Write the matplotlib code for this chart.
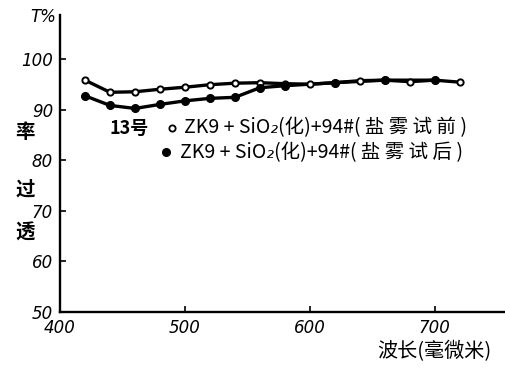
import numpy as np
import matplotlib
matplotlib.use("Agg")
import matplotlib.pyplot as plt

plt.rcParams['font.family'] = ['Noto Sans CJK SC', 'DejaVu Sans']

# wavelength (nm) and transmittance T%
wl_before = [420, 440, 460, 480, 500, 520, 540, 560, 580, 600, 620, 640, 660, 680, 700, 720]
t_before = [95.9, 93.5, 93.6, 94.1, 94.5, 95.0, 95.3, 95.4, 95.2, 95.1, 95.4, 95.8, 95.9, 95.6, 95.9, 95.5]

wl_after = [420, 440, 460, 480, 500, 520, 540, 560, 580, 620, 660, 700]
t_after = [92.8, 90.9, 90.3, 91.1, 91.8, 92.3, 92.5, 94.4, 94.8, 95.4, 95.9, 95.9]

x_ticks = [400, 500, 600, 700]
y_ticks = [50, 60, 70, 80, 90, 100]

label_before = "ZK9 + SiO₂(化)+94#( 盐 雾 试 前 )"
label_after = "ZK9 + SiO₂(化)+94#( 盐 雾 试 后 )"

fig = plt.figure(figsize=(5.06, 3.68), dpi=100)
ax = fig.add_axes([60/506, 56/368, 446/506, 297/368])

# filled series line underneath, open series on top, filled markers last
ax.plot(wl_after, t_after, color='black', lw=2.4, zorder=2, solid_capstyle='round')
ax.plot(wl_before, t_before, color='black', lw=2.4, marker='o', ms=4.5,
        mfc='white', mec='black', mew=1.4, zorder=3, solid_capstyle='round')
ax.plot(wl_after, t_after, ls='none', marker='o', ms=5.5, mfc='black',
        mec='black', zorder=4)

ax.set_xlim(400, 757)
ax.set_ylim(50, 108.8)
for s in ['top', 'right']:
    ax.spines[s].set_visible(False)
for s in ['left', 'bottom']:
    ax.spines[s].set_linewidth(1.7)

ax.set_xticks(x_ticks)
ax.set_yticks(y_ticks)
ax.set_xticklabels([str(v) for v in x_ticks], fontstyle='italic', fontsize=12,
                   family='DejaVu Sans')
ax.set_yticklabels([str(v) for v in y_ticks], fontstyle='italic', fontsize=12,
                   family='DejaVu Sans')
ax.tick_params(direction='in', length=4, width=1.2, pad=5)

fig.text(30/506, 1 - 17/368, "T%", fontsize=12, fontstyle='italic',
         family='DejaVu Sans', ha='left', va='center')

# vertical axis title, characters stacked
for ch, yp in zip(["率", "过", "透"], [133, 190, 233]):
    fig.text(25/506, 1 - yp/368, ch, fontsize=14, fontweight='bold',
             ha='center', va='center')

fig.text(434/506, 1 - 352/368, "波长(毫微米)", fontsize=14.5, ha='center', va='center')

# hand-written legend
fig.text(110/506, 1 - 128/368, "13号", fontsize=13, fontweight='bold',
         ha='left', va='center')
fig.add_artist(plt.Line2D([172/506], [1 - 128/368], marker='o', ms=4.5,
                          mfc='white', mec='black', mew=1.3))
fig.add_artist(plt.Line2D([166/506], [1 - 152/368], marker='o', ms=5.5,
                          mfc='black', mec='black'))
fig.text(184/506, 1 - 128/368, label_before, fontsize=14, fontstyle='italic',
         ha='left', va='center')
fig.text(180/506, 1 - 153/368, label_after, fontsize=14, fontstyle='italic',
         ha='left', va='center')

fig.savefig("out.png", dpi=100)
